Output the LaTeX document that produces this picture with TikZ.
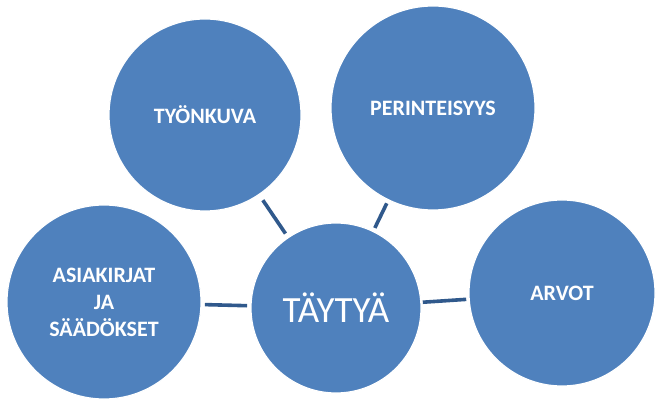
\documentclass[tikz,border=0pt]{standalone}
\usepackage{fontspec}
\setmainfont{Carlito}
\definecolor{bubble}{HTML}{4F81BD}
\definecolor{link}{HTML}{30598C}
\begin{document}
\begin{tikzpicture}[x=1pt,y=-1pt,
  bubble/.style={circle,fill=bubble,draw=white,line width=1.2pt,inner sep=0pt,outer sep=0pt,
    text=white,align=center,font=\fontsize{22}{27}\selectfont\bfseries},
  link/.style={draw=link,line width=3.6pt}]
\useasboundingbox[fill=white] (0,0) rectangle (658,403);
% outer topics
\node[bubble,minimum size=192] (tyo) at (205,115) {TYÖNKUVA};
\node[bubble,minimum size=204] (per) at (433,108) {PERINTEISYYS};
\node[bubble,minimum size=194] (asi) at (104,302) {ASIAKIRJAT\\JA\\SÄÄDÖKSET};
\node[bubble,minimum size=186] (arv) at (562,293) {ARVOT};
% central topic
\node[bubble,minimum size=170,font=\fontsize{37}{40}\selectfont] (tay) at (336,308) {TÄYTYÄ};
% connectors
\draw[link,shorten <=7,shorten >=5] (tyo) -- (tay);
\draw[link,shorten <=4,shorten >=4] (per) -- (tay);
\draw[link,shorten <=4,shorten >=4] (asi) -- (tay);
\draw[link,shorten <=2,shorten >=3] (tay) -- (arv);
\end{tikzpicture}
\end{document}
